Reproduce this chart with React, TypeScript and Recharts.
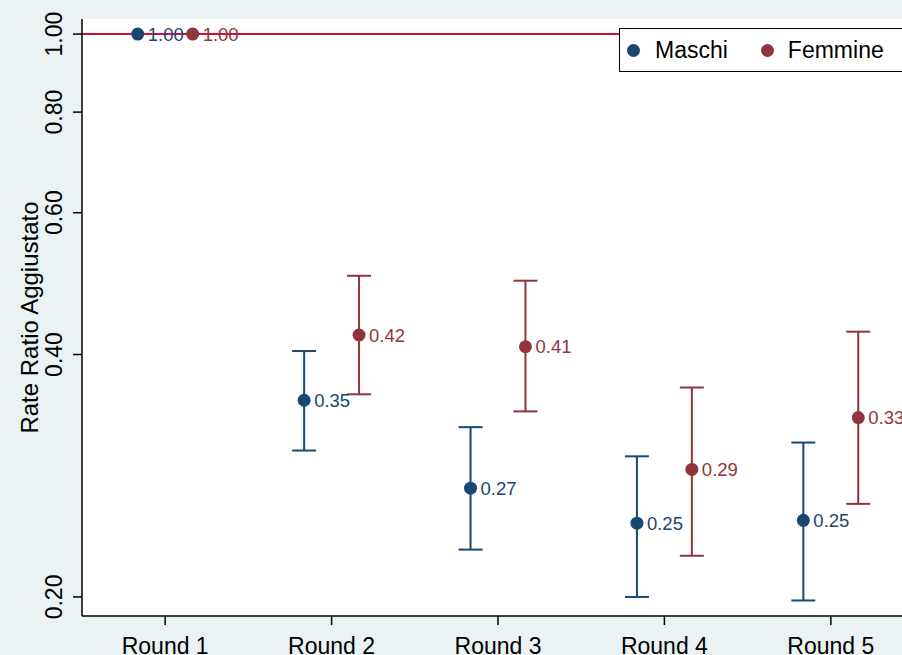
import {
  CartesianGrid,
  ComposedChart,
  ErrorBar,
  ReferenceLine,
  Scatter,
  XAxis,
  YAxis,
} from "recharts";

const rounds = ["Round 1", "Round 2", "Round 3", "Round 4", "Round 5"];
const roundPos = [1, 2, 3, 4, 5];

const maschi = [1.0, 0.351, 0.273, 0.247, 0.249];
const maschiLow = [null, 0.304, 0.229, 0.2, 0.198];
const maschiHigh = [null, 0.404, 0.325, 0.299, 0.311];

const femmine = [1.0, 0.423, 0.409, 0.288, 0.334];
const femmineLow = [null, 0.357, 0.34, 0.225, 0.261];
const femmineHigh = [null, 0.501, 0.494, 0.364, 0.427];

const yTicks = [0.2, 0.4, 0.6, 0.8, 1.0];

const NAVY = "#1a476f";
const MAROON = "#90353b";
const REF = "#d0103a";
const BG = "#eaf2f3";
const FONT = "'Liberation Sans', Arial, sans-serif";

// side-by-side dodge of the two groups within each round
const dodge = 0.165;

function buildSeries(vals: number[], lo: (number | null)[], hi: (number | null)[], shift: number) {
  return vals.map((v, i) => ({
    x: roundPos[i] + shift,
    value: v,
    err: lo[i] == null || hi[i] == null ? null : [v - (lo[i] as number), (hi[i] as number) - v],
  }));
}

const makeDot = (color: string) => (props: any) => {
  const { cx, cy, payload } = props;
  return (
    <g>
      <circle cx={cx} cy={cy} r={6.5} fill={color} />
      <text x={cx + 10} y={cy} dy="0.36em" fill={color} fontSize={18.5} fontFamily={FONT}>
        {payload.value.toFixed(2)}
      </text>
    </g>
  );
};

const YTick = (props: any) => {
  const { x, y, payload } = props;
  return (
    <text
      transform={`translate(${x}, ${y}) rotate(-90)`}
      textAnchor="middle"
      fontSize={23}
      fontFamily={FONT}
      fill="#000"
    >
      {payload.value.toFixed(2)}
    </text>
  );
};

const XTick = (props: any) => {
  const { x, y, payload } = props;
  return (
    <text x={x} y={y} dy={16.5} textAnchor="middle" fontSize={23} fontFamily={FONT} fill="#000">
      {rounds[payload.value - 1]}
    </text>
  );
};

const dotStyle = (color: string, ml: number) => ({
  display: "inline-block",
  width: 13,
  height: 13,
  borderRadius: "50%",
  background: color,
  marginLeft: ml,
  flexShrink: 0,
});

const LegendBox = () => (
  <div
    style={{
      position: "absolute",
      left: 619,
      top: 28,
      width: 290,
      height: 44,
      background: "#fff",
      border: "1px solid #000",
      display: "flex",
      alignItems: "center",
      fontFamily: FONT,
      fontSize: 23,
      color: "#000",
      boxSizing: "border-box",
      whiteSpace: "nowrap",
    }}
  >
    <span style={dotStyle(NAVY, 7)} />
    <span style={{ marginLeft: 15 }}>Maschi</span>
    <span style={dotStyle(MAROON, 33)} />
    <span style={{ marginLeft: 14 }}>Femmine</span>
  </div>
);

export default function App() {
  const m = buildSeries(maschi, maschiLow, maschiHigh, -dodge);
  const f = buildSeries(femmine, femmineLow, femmineHigh, dodge);

  return (
    <div
      style={{
        position: "fixed",
        left: 0,
        top: 0,
        width: 902,
        height: 655,
        overflow: "hidden",
        background: BG,
      }}
    >
      <ComposedChart width={930} height={655} margin={{ top: 19, right: 16, left: 0, bottom: 0 }}>
        <CartesianGrid fill="#fff" stroke="none" horizontal={false} vertical={false} />
        <XAxis
          type="number"
          dataKey="x"
          domain={[0.5, 5.5]}
          ticks={roundPos}
          allowDataOverflow
          height={39}
          tickSize={9}
          tickMargin={12}
          stroke="#000"
          strokeWidth={1.5}
          tick={<XTick />}
        />
        <YAxis
          type="number"
          dataKey="value"
          scale="log"
          domain={[0.1894, 1.044]}
          ticks={yTicks}
          allowDataOverflow
          width={82}
          tickSize={9}
          tickMargin={11}
          stroke="#000"
          strokeWidth={1.5}
          tick={<YTick />}
          label={(p: any) => {
            const vb = p.viewBox;
            const cy = vb.y + vb.height / 2;
            return (
              <text
                transform={`translate(38, ${cy}) rotate(-90)`}
                textAnchor="middle"
                fontSize={24}
                fontFamily={FONT}
                fill="#000"
              >
                Rate Ratio Aggiustato
              </text>
            );
          }}
        />
        <ReferenceLine y={1} stroke={REF} strokeWidth={2} />
        <Scatter name="Maschi" data={m} fill={NAVY} shape={makeDot(NAVY)} isAnimationActive={false}>
          <ErrorBar dataKey="err" direction="y" width={12} stroke={NAVY} strokeWidth={2} />
        </Scatter>
        <Scatter name="Femmine" data={f} fill={MAROON} shape={makeDot(MAROON)} isAnimationActive={false}>
          <ErrorBar dataKey="err" direction="y" width={12} stroke={MAROON} strokeWidth={2} />
        </Scatter>
      </ComposedChart>
      <LegendBox />
    </div>
  );
}
